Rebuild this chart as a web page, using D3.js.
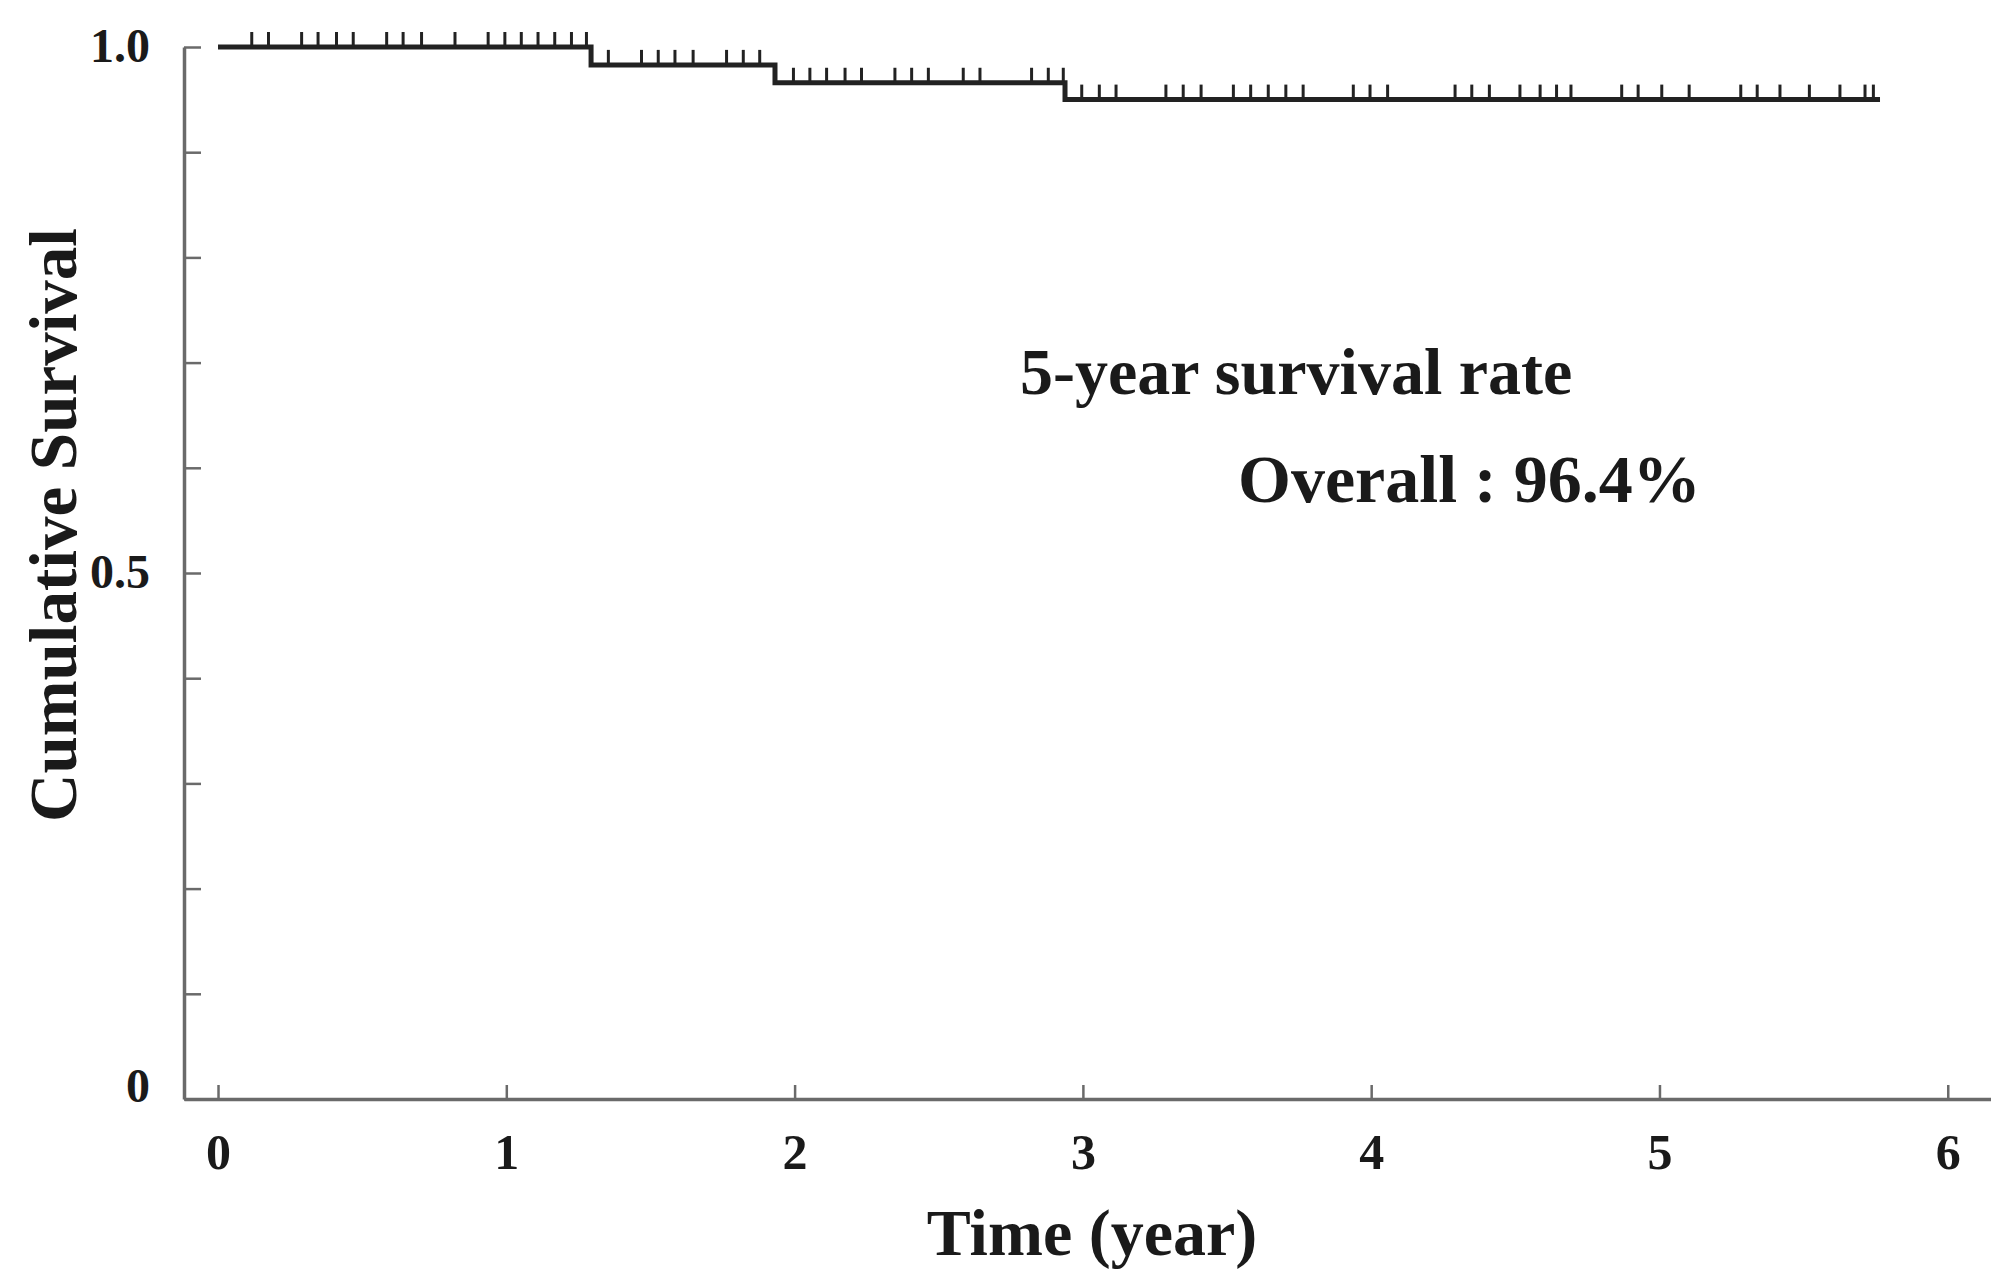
<!DOCTYPE html>
<html lang="en">
<head>
  <meta charset="UTF-8">
  <title>Cumulative Survival</title>
  <script src="https://d3js.org/d3.v7.min.js"></script>
  <style>
    body {
      margin: 0;
      background: #fff;
    }
    svg text {
      font-family: "Liberation Serif", "Times New Roman", serif;
      fill: #1a1a1a;
    }
    .axis path, .axis line {
      stroke: #6a6a6a;
    }
  </style>
</head>
<body>
  <div id="chart"></div>

  <script>
    // Kaplan-Meier steps (time in years, survival)
    const stepTimes = [0, 1.294, 1.932, 2.938];
    const stepSurvival = [1.0, 0.983, 0.966, 0.950];
    const endTime = 5.765;

    // censored cases (time in years)
    const censorTimes = [
      0.117, 0.175, 0.290, 0.347, 0.411, 0.469, 0.585, 0.642, 0.706, 0.822,
      0.937, 0.995, 1.052, 1.110, 1.168, 1.226, 1.278,
      1.354, 1.469, 1.527, 1.585, 1.648, 1.764, 1.822, 1.879,
      1.996, 2.053, 2.111, 2.175, 2.232, 2.348, 2.406, 2.464, 2.585, 2.643,
      2.822, 2.880, 2.932,
      2.996, 3.057, 3.115, 3.288, 3.348, 3.410, 3.522, 3.582, 3.643, 3.704,
      3.764, 3.938, 3.996, 4.057, 4.291, 4.349, 4.410, 4.516, 4.586, 4.643,
      4.693, 4.869, 4.926, 5.008, 5.103, 5.282, 5.339, 5.418, 5.520, 5.626,
      5.713, 5.742
    ];

    const xTicks = [0, 1, 2, 3, 4, 5, 6];
    const yTicks = [0, 0.1, 0.2, 0.3, 0.4, 0.5, 0.6, 0.7, 0.8, 0.9, 1.0];
    const yTickLabels = { 0: "0", 0.5: "0.5", 1: "1.0" };

    const width = 1991, height = 1270;
    const margin = { top: 47, left: 184, bottom: 171 };

    const svg = d3.select("#chart").append("svg")
      .attr("width", width)
      .attr("height", height);

    const x = d3.scaleLinear()
      .domain([-0.118, 6.15])
      .range([margin.left, width]);

    const y = d3.scaleLinear()
      .domain([0, 1])
      .range([height - margin.bottom, margin.top]);

    // x axis, ticks pointing up
    const xAxis = svg.append("g")
      .attr("class", "axis")
      .attr("transform", "translate(0," + y(0) + ")")
      .call(d3.axisBottom(x).tickValues(xTicks).tickFormat(d3.format("d"))
        .tickSizeInner(-14).tickSizeOuter(0).tickPadding(34));
    xAxis.select(".domain").attr("stroke-width", 3.5);
    xAxis.selectAll(".tick line").attr("stroke-width", 2.5);
    xAxis.selectAll(".tick text")
      .attr("fill", "#1a1a1a")
      .style("font-size", "50px")
      .style("font-weight", "bold");

    // y axis, ticks pointing right
    const yAxis = svg.append("g")
      .attr("class", "axis")
      .attr("transform", "translate(" + margin.left + ",0)")
      .call(d3.axisLeft(y).tickValues(yTicks).tickSizeInner(-17).tickSizeOuter(0).tickPadding(34)
        .tickFormat(d => yTickLabels[Math.round(d * 10) / 10] || ""));
    yAxis.select(".domain").attr("stroke-width", 3.5);
    yAxis.selectAll(".tick line").attr("stroke-width", 2.5);
    yAxis.selectAll(".tick text")
      .attr("fill", "#1a1a1a")
      .style("font-size", "48px")
      .style("font-weight", "bold")
      .attr("dy", d => d === 0 ? "0.05em" : "0.3em");

    // survival curve
    const points = stepTimes.map((t, i) => [t, stepSurvival[i]]);
    points.push([endTime, stepSurvival[stepSurvival.length - 1]]);

    const line = d3.line()
      .x(d => x(d[0]))
      .y(d => y(d[1]))
      .curve(d3.curveStepAfter);

    svg.append("path")
      .datum(points)
      .attr("fill", "none")
      .attr("stroke", "#222")
      .attr("stroke-width", 5)
      .attr("d", line);

    // survival at a given time
    function survivalAt(t) {
      let s = stepSurvival[0];
      stepTimes.forEach((st, i) => { if (t >= st) s = stepSurvival[i]; });
      return s;
    }

    svg.selectAll(".censor")
      .data(censorTimes)
      .enter().append("line")
      .attr("class", "censor")
      .attr("x1", d => x(d))
      .attr("x2", d => x(d))
      .attr("y1", d => y(survivalAt(d)))
      .attr("y2", d => y(survivalAt(d)) - 15)
      .attr("stroke", "#222")
      .attr("stroke-width", 3);

    // axis titles
    svg.append("text")
      .attr("x", 1092)
      .attr("y", 1255)
      .attr("text-anchor", "middle")
      .style("font-size", "66px")
      .style("font-weight", "bold")
      .text("Time (year)");

    svg.append("text")
      .attr("transform", "translate(76,525) rotate(-90)")
      .attr("text-anchor", "middle")
      .style("font-size", "67px")
      .style("font-weight", "bold")
      .text("Cumulative Survival");

    // annotation
    svg.append("text")
      .attr("x", 1020)
      .attr("y", 394)
      .style("font-size", "66px")
      .style("font-weight", "bold")
      .text("5-year survival rate");

    svg.append("text")
      .attr("x", 1238)
      .attr("y", 502)
      .style("font-size", "68px")
      .style("font-weight", "bold")
      .text("Overall : 96.4%");
  </script>
</body>
</html>
